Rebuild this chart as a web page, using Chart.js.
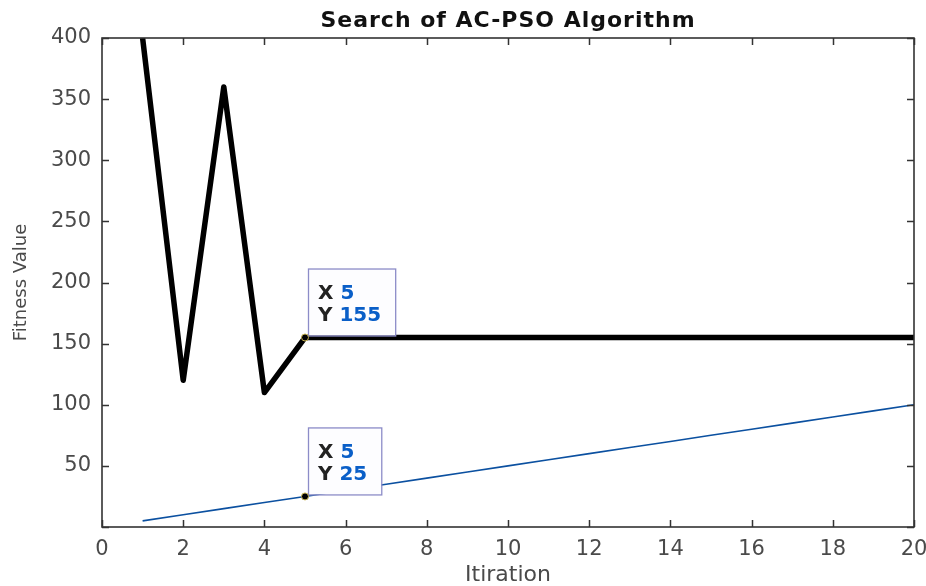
<!DOCTYPE html>
<html>
<head>
<meta charset="utf-8">
<script src="https://cdn.jsdelivr.net/npm/chart.js@4.4.1/dist/chart.umd.min.js"></script>
<style>
html,body{margin:0;padding:0;background:#fff;overflow:hidden}
#wrap{width:926px;height:586px;position:relative}
</style>
</head>
<body>
<div id="wrap"><canvas id="c"></canvas></div>
<script>
// ---- data ----
const chartTitle = 'Search of AC-PSO Algorithm';
const xAxisTitle = 'Itiration';
const yAxisTitle = 'Fitness Value';
const iterations = [1,2,3,4,5,6,7,8,9,10,11,12,13,14,15,16,17,18,19,20];
const acpsoFitness = [400,120,360,110,155,155,155,155,155,155,155,155,155,155,155,155,155,155,155,155];
const lineFitness = [5,10,15,20,25,30,35,40,45,50,55,60,65,70,75,80,85,90,95,100];
const xTicks = [0,2,4,6,8,10,12,14,16,18,20];
const yTicks = [0,50,100,150,200,250,300,350,400];
const dataTips = [{dataset:0, index:4}, {dataset:1, index:4}];

// ---- styles ----
const tickColor = '#4a4a4a';
const frameColor = '#333333';

const framePlugin = {
  id: 'matlabFrame',
  afterDatasetsDraw(chart) {
    const ctx = chart.ctx;
    const xs = chart.scales.x, ys = chart.scales.y;
    const a = chart.chartArea;
    ctx.save();
    // frame
    ctx.strokeStyle = frameColor;
    ctx.lineWidth = 1.6;
    ctx.strokeRect(a.left, a.top, a.right - a.left, a.bottom - a.top);
    // inward ticks
    const tl = 7;
    ctx.beginPath();
    xTicks.forEach(v => {
      const p = Math.round(xs.getPixelForValue(v)) + 0.5;
      ctx.moveTo(p, a.bottom); ctx.lineTo(p, a.bottom - tl);
      ctx.moveTo(p, a.top); ctx.lineTo(p, a.top + tl);
    });
    yTicks.forEach(v => {
      const p = Math.round(ys.getPixelForValue(v)) + 0.5;
      ctx.moveTo(a.left, p); ctx.lineTo(a.left + tl, p);
      ctx.moveTo(a.right, p); ctx.lineTo(a.right - tl, p);
    });
    ctx.lineWidth = 1.5;
    ctx.stroke();

    // data tips
    dataTips.forEach(t => {
      const ds = chart.data.datasets[t.dataset];
      const pt = ds.data[t.index];
      const px = xs.getPixelForValue(pt.x);
      const py = ys.getPixelForValue(pt.y);
      ctx.font = 'bold 20px "DejaVu Sans"';
      const l1 = 'X ', v1 = String(pt.x), l2 = 'Y ', v2 = String(pt.y);
      const w = Math.max(ctx.measureText(l1 + v1).width, ctx.measureText(l2 + v2).width);
      const bx = px + 3, bh = 67, by = py - 2 - bh, bw = w + 24;
      ctx.fillStyle = '#fdfdff';
      ctx.fillRect(bx, by, bw, bh);
      ctx.strokeStyle = '#8c8cc8';
      ctx.lineWidth = 1.3;
      ctx.strokeRect(bx + 0.5, by + 0.5, bw, bh);
      ctx.textBaseline = 'middle';
      ctx.textAlign = 'left';
      const tx = bx + 10;
      ctx.fillStyle = '#222222';
      ctx.fillText(l1, tx, by + 25);
      ctx.fillText(l2, tx, by + 47);
      ctx.fillStyle = '#0a5fc8';
      ctx.fillText(v1, tx + ctx.measureText(l1).width, by + 25);
      ctx.fillText(v2, tx + ctx.measureText(l2).width, by + 47);
      // marker
      ctx.beginPath();
      ctx.arc(px, py, 3.5, 0, Math.PI * 2);
      ctx.fillStyle = '#000';
      ctx.fill();
      ctx.strokeStyle = '#c9b452';
      ctx.lineWidth = 1;
      ctx.stroke();
    });

    // title
    ctx.font = 'bold 22px "DejaVu Sans"';
    try { ctx.letterSpacing = '1px'; } catch (e) {}
    ctx.fillStyle = '#111111';
    ctx.textAlign = 'center';
    ctx.textBaseline = 'middle';
    ctx.fillText(chartTitle, (a.left + a.right) / 2, 21);
    ctx.restore();
  }
};

const ctx = document.getElementById('c').getContext('2d');
new Chart(ctx, {
  type: 'line',
  data: {
    datasets: [
      {
        label: 'AC-PSO',
        data: iterations.map((x, i) => ({x: x, y: acpsoFitness[i]})),
        borderColor: '#000000',
        backgroundColor: '#000000',
        borderWidth: 5.5,
        borderJoinStyle: 'round',
        pointRadius: 0,
        tension: 0,
        clip: 0
      },
      {
        label: 'Linear',
        data: iterations.map((x, i) => ({x: x, y: lineFitness[i]})),
        borderColor: '#0b50a0',
        backgroundColor: '#0b50a0',
        borderWidth: 1.6,
        pointRadius: 0,
        tension: 0,
        clip: 0
      }
    ]
  },
  options: {
    responsive: true,
    maintainAspectRatio: false,
    animation: false,
    layout: {padding: {top: 38, right: 12, left: 0, bottom: 0}},
    plugins: {legend: {display: false}, tooltip: {enabled: false}, title: {display: false}},
    scales: {
      x: {
        type: 'linear',
        min: 0, max: 20,
        afterBuildTicks: s => { s.ticks = xTicks.map(v => ({value: v})); },
        afterFit: s => { s.height = 59; s.paddingLeft = 0; s.paddingRight = 0; },
        grid: {display: false, drawTicks: false},
        border: {display: false},
        ticks: {
          color: tickColor,
          font: {family: 'DejaVu Sans', size: 21},
          padding: 10,
          maxRotation: 0,
          autoSkip: false
        },
        title: {
          display: true,
          text: xAxisTitle,
          color: tickColor,
          font: {family: 'DejaVu Sans', size: 22, lineHeight: 1},
          padding: {top: 0, bottom: 0}
        }
      },
      y: {
        type: 'linear',
        min: 0, max: 400,
        afterBuildTicks: s => { s.ticks = yTicks.map(v => ({value: v})); },
        afterFit: s => { s.width = 102; },
        grid: {display: false, drawTicks: false},
        border: {display: false},
        ticks: {
          color: tickColor,
          font: {family: 'DejaVu Sans', size: 21},
          padding: 11,
          autoSkip: false,
          callback: v => (v === 0 ? '' : String(v))
        },
        title: {
          display: true,
          text: yAxisTitle,
          color: tickColor,
          font: {family: 'DejaVu Sans', size: 18},
          padding: {top: 11, bottom: 0}
        }
      }
    }
  },
  plugins: [framePlugin]
});
</script>
</body>
</html>
